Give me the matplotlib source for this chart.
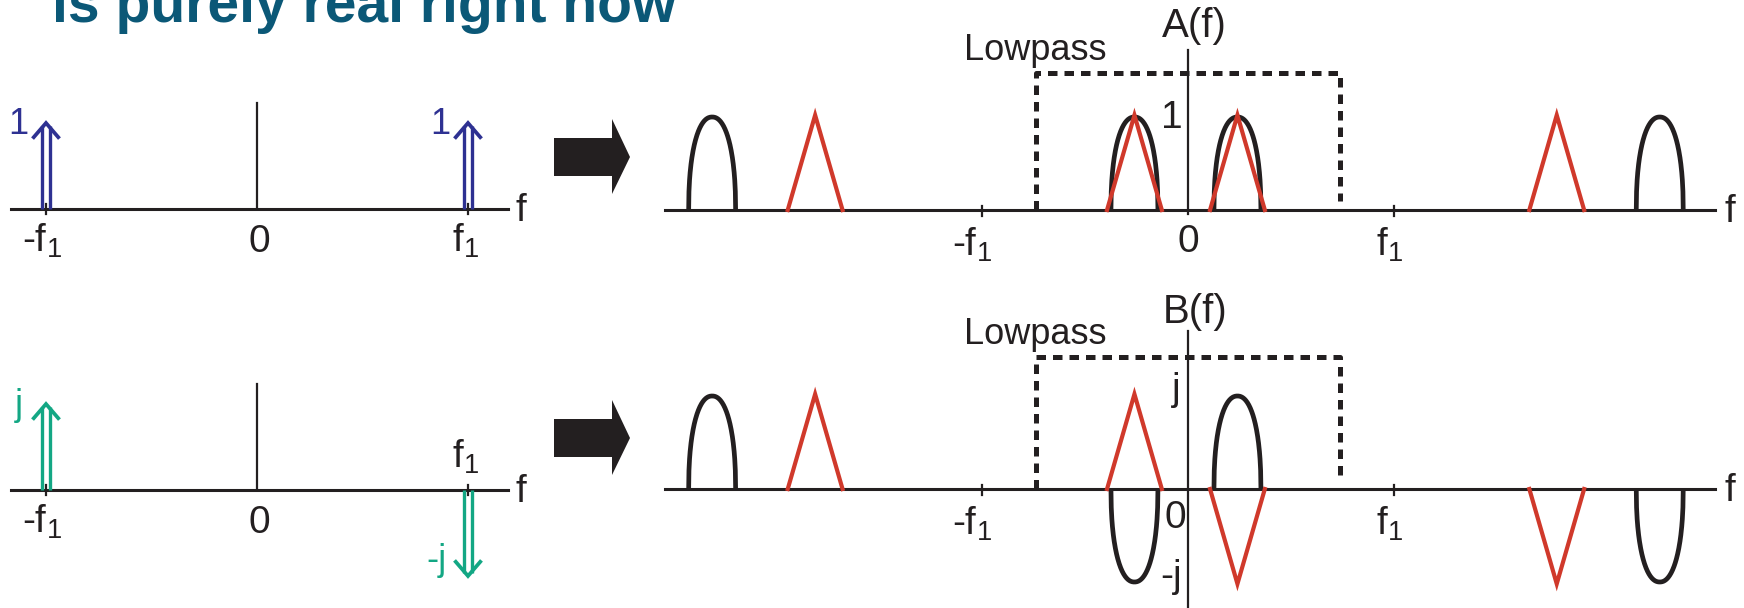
import numpy as np
import matplotlib.pyplot as plt
from matplotlib.patches import Polygon

plt.rcParams['font.family'] = ['Liberation Sans', 'DejaVu Sans']
plt.rcParams['mathtext.fontset'] = 'custom'
plt.rcParams['mathtext.rm'] = 'Liberation Sans'
plt.rcParams['mathtext.it'] = 'Liberation Sans'

W, H, DPI = 1744, 608, 100

# ---- data (frequency in units of f1) ----
tone_f = [-1, 1]
tone_cos = [1, 1]
tone_sin = [1, -1]
cos_labels = ['1', '1']
sin_labels = ['j', '-j']

black_f = [-2.31, -0.26, 0.24, 2.29]
black_A = [1, 1, 1, 1]
black_B = [1, -1, 1, -1]
red_f = [-1.81, -0.26, 0.24, 1.79]
red_A = [1.02, 1.02, 1.02, 1.02]
red_B = [1.02, 1.02, -1.02, -1.02]

lowpass_edge = 0.74
lowpass_A = 1.47
lowpass_B = 1.42

BLACK = '#231f20'
RED = '#d0392b'
BLUE = '#2e3192'
GREEN = '#13a784'
TITLE = '#0b5877'

fig = plt.figure(figsize=(W / DPI, H / DPI), dpi=DPI)


def panel(box, origin, unit, amp, base):
    x0, x1, y0, y1 = box
    ax = fig.add_axes([x0 / W, 1 - y1 / H, (x1 - x0) / W, (y1 - y0) / H])
    ax.set_xlim((x0 - origin) / unit, (x1 - origin) / unit)
    ax.set_ylim((base - y1) / amp, (base - y0) / amp)
    ax.set_axis_off()
    ax.patch.set_visible(False)
    return ax


def f1_label(ax, x, y, neg=False, size=28):
    s = ('-' if neg else '') + r'$\mathregular{f_1}$'
    ax.text(x, y, s, ha='center', va='baseline', fontsize=size, color=BLACK)


def dbl_arrow(ax, x, a, color, dx=0.019, hw=0.058, hh=0.165):
    sgn = np.sign(a)
    for s in (-dx, dx):
        ax.plot([x + s, x + s], [0, a - sgn * 0.03], color=color, lw=2.4,
                solid_capstyle='butt')
    ax.plot([x - hw, x, x + hw], [a - sgn * hh, a, a - sgn * hh],
            color=color, lw=2.7, solid_joinstyle='miter')


def bump(ax, c, a, hw=0.114):
    u = np.linspace(-1, 1, 160)
    ax.plot(c + hw * u, a * (1 - np.abs(u) ** 2.2) ** 0.45, color=BLACK,
            lw=3.4, solid_capstyle='butt')


def tri(ax, c, a, hw=0.133):
    ax.plot([c - hw, c, c + hw], [0, a, 0], color=RED, lw=3.0,
            solid_joinstyle='miter')


# ---- left panels: cos / sin tones ----
for base, vals, labs, col, top in [(209, tone_cos, cos_labels, BLUE, True),
                                   (490, tone_sin, sin_labels, GREEN, False)]:
    ax = panel((0, 545, base - 200, base + 118), 257, 211, 86, base)
    ax.plot([-1.166, 1.19], [0, 0], color=BLACK, lw=2.2)
    ax.plot([0, 0], [0, 1.23], color=BLACK, lw=1.6)
    for t in tone_f:
        ax.plot([t, t], [-0.06, 0.06], color=BLACK, lw=1.6)
    for f, a, lab in zip(tone_f, vals, labs):
        dbl_arrow(ax, f, a, col)
        if a > 0:
            ax.text(f - 0.13, a - 0.13, lab, ha='center', va='baseline',
                    fontsize=26, color=col)
        else:
            ax.text(f - 0.15, a + 0.07, lab, ha='center', va='baseline',
                    fontsize=26, color=col)
    ax.text(1.25, -0.14, 'f', ha='center', va='baseline', fontsize=28, color=BLACK)
    ax.text(0.01, -0.5, '0', ha='center', va='baseline', fontsize=28, color=BLACK)
    f1_label(ax, -1.02, -0.5, neg=True)
    if top:
        f1_label(ax, 0.99, -0.5)
    else:
        f1_label(ax, 0.99, 0.26)

# ---- right panels: A(f) and B(f) ----
specs = [(210, black_A, red_A, lowpass_A, 'A(f)'),
         (489, black_B, red_B, lowpass_B, 'B(f)')]
for k, (base, bvals, rvals, lp, name) in enumerate(specs):
    ax = panel((640, 1744, base - 210, base + 119), 1188, 206, 93, base)
    ax.plot([-2.539, 2.558], [0, 0], color=BLACK, lw=2.2)
    ytop = 1.72 if k == 0 else 1.70
    ybot = -0.04 if k == 0 else -1.3
    ax.plot([0, 0], [ybot, ytop], color=BLACK, lw=1.6)
    for t in tone_f:
        ax.plot([t, t], [-0.06, 0.04], color=BLACK, lw=1.6)
    ax.plot([-lowpass_edge, -lowpass_edge, lowpass_edge, lowpass_edge],
            [0, lp, lp, 0.1], color=BLACK, lw=3.6, ls=(0, (1.9, 1.4)))
    for c, a in zip(black_f, bvals):
        bump(ax, c, a)
    for c, a in zip(red_f, rvals):
        tri(ax, c, a)
    ax.text(-1.087, lp + 0.14, 'Lowpass', ha='left', va='baseline',
            fontsize=26, color=BLACK)
    ax.text(-0.125, 1.86 if k == 0 else 1.79, name, ha='left',
            va='baseline', fontsize=29, color=BLACK)
    ax.text(2.63, -0.13, 'f', ha='center', va='baseline', fontsize=28,
            color=BLACK)
    f1_label(ax, -1.05, -0.49, neg=True)
    f1_label(ax, 0.98, -0.49)
    if k == 0:
        ax.text(-0.078, 0.88, '1', ha='center', va='baseline', fontsize=28,
                color=BLACK)
        ax.text(0.0, -0.45, '0', ha='center', va='baseline', fontsize=28,
                color=BLACK)
    else:
        ax.text(-0.058, 0.96, 'j', ha='center', va='baseline', fontsize=28,
                color=BLACK)
        ax.text(-0.063, -0.42, '0', ha='center', va='baseline', fontsize=28,
                color=BLACK)
        ax.text(-0.083, -1.05, '-j', ha='center', va='baseline', fontsize=28,
                color=BLACK)

# ---- block arrows and title (pixel overlay) ----
ov = fig.add_axes([0, 0, 1, 1])
ov.set_xlim(0, W)
ov.set_ylim(H, 0)
ov.set_axis_off()
ov.patch.set_visible(False)
for cy in (157, 438):
    pts = [(554, cy - 19), (612, cy - 19), (612, cy - 38), (630, cy),
           (612, cy + 37), (612, cy + 19), (554, cy + 19)]
    ov.add_patch(Polygon(pts, closed=True, color=BLACK, lw=0))

fig.text(52 / W, 1 - 22 / H, 'is purely real right now', fontsize=41,
         weight='bold', color=TITLE, ha='left', va='baseline')

fig.savefig('out.png', dpi=DPI)
